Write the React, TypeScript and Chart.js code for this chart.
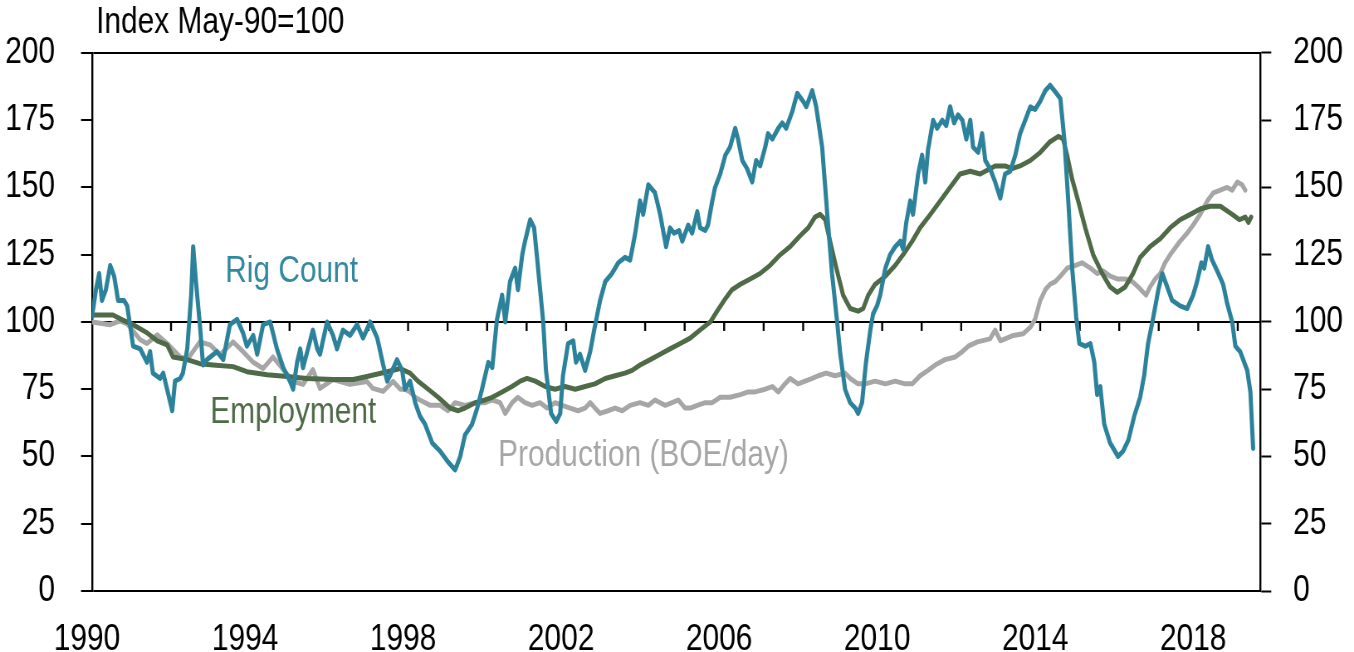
import { useEffect, useRef } from 'react';
import { Chart, registerables } from 'chart.js';

Chart.register(...registerables);

const FONT = "'Liberation Sans', Arial, sans-serif";
const BASE_YEAR = 1990;
const END_YEAR = 2019.57;

// [years since Jan 1990, index value]
const RIG_COUNT: [number, number][] = [
  [0.00,102],[0.10,112],[0.18,118],[0.25,108],[0.35,112],[0.46,121],[0.56,117],[0.66,108],[0.81,108],[0.89,106],[0.96,99],[1.04,91],[1.22,90],[1.39,85],[1.47,89],[1.54,81],[1.72,79],[1.80,81],[1.90,75],[2.03,67],[2.10,78],[2.23,79],[2.30,81],[2.41,90],[2.51,110],[2.56,128],[2.63,115],[2.73,99],[2.81,84],[2.91,86],[3.16,89],[3.32,86],[3.49,99],[3.67,101],[3.82,96],[3.92,91],[4.08,95],[4.18,88],[4.33,99],[4.51,100],[4.68,90],[4.84,83],[5.01,78],[5.09,75],[5.19,85],[5.27,90],[5.34,83],[5.52,93],[5.59,97],[5.70,90],[5.77,88],[5.95,100],[6.10,95],[6.20,90],[6.35,97],[6.53,95],[6.71,99],[6.86,94],[7.04,100],[7.22,94],[7.37,84],[7.47,78],[7.54,80],[7.72,86],[7.85,82],[7.92,75],[8.05,78],[8.18,70],[8.30,65],[8.43,62],[8.61,55],[8.81,52],[9.01,48],[9.19,45],[9.32,50],[9.44,58],[9.62,62],[9.75,68],[9.87,75],[9.95,80],[10.03,85],[10.13,83],[10.25,101],[10.38,110],[10.46,100],[10.58,115],[10.71,120],[10.78,112],[10.89,125],[10.96,130],[11.09,138],[11.19,135],[11.29,120],[11.42,100],[11.49,82],[11.62,66],[11.75,63],[11.85,66],[11.92,80],[12.05,92],[12.18,93],[12.25,85],[12.35,88],[12.48,82],[12.61,89],[12.71,97],[12.86,108],[12.99,115],[13.16,118],[13.32,122],[13.49,124],[13.62,123],[13.75,133],[13.87,145],[13.95,140],[14.08,151],[14.25,148],[14.38,140],[14.53,128],[14.63,135],[14.73,133],[14.86,134],[14.94,130],[15.09,136],[15.19,133],[15.32,141],[15.39,135],[15.52,134],[15.59,136],[15.70,145],[15.77,150],[15.90,155],[16.03,162],[16.15,165],[16.28,172],[16.35,168],[16.46,160],[16.58,157],[16.71,152],[16.81,160],[16.91,158],[17.04,165],[17.11,170],[17.22,168],[17.37,172],[17.47,174],[17.57,172],[17.72,178],[17.85,185],[18.00,182],[18.08,180],[18.23,186],[18.33,180],[18.48,165],[18.61,140],[18.73,118],[18.86,100],[18.94,88],[19.06,75],[19.19,70],[19.32,68],[19.39,66],[19.49,70],[19.59,85],[19.70,97],[19.77,103],[19.87,106],[19.95,110],[20.08,120],[20.20,125],[20.33,128],[20.46,130],[20.53,127],[20.61,137],[20.71,145],[20.78,140],[20.91,155],[21.01,162],[21.09,152],[21.16,164],[21.29,175],[21.39,172],[21.52,175],[21.62,173],[21.72,180],[21.82,174],[21.92,177],[22.03,175],[22.13,168],[22.23,175],[22.30,165],[22.43,163],[22.53,170],[22.61,160],[22.73,157],[22.86,152],[22.99,146],[23.11,155],[23.24,156],[23.37,162],[23.49,170],[23.62,175],[23.75,180],[23.87,179],[24.00,182],[24.13,186],[24.25,188],[24.41,185],[24.51,183],[24.61,168],[24.71,145],[24.81,120],[24.91,102],[24.99,92],[25.14,91],[25.27,92],[25.37,85],[25.44,73],[25.52,76],[25.62,62],[25.77,55],[25.97,50],[26.10,52],[26.23,56],[26.38,65],[26.53,72],[26.63,80],[26.73,92],[26.84,100],[26.99,112],[27.09,118],[27.19,114],[27.34,108],[27.54,106],[27.72,105],[27.87,110],[27.97,115],[28.08,122],[28.15,120],[28.25,128],[28.35,123],[28.51,118],[28.63,114],[28.73,107],[28.86,100],[28.94,91],[29.06,89],[29.24,82],[29.32,74],[29.39,53],
];

const EMPLOYMENT: [number, number][] = [
  [0.00,102.6],[0.53,102.6],[0.78,100.7],[1.04,99],[1.39,96],[1.65,93],[1.90,91.5],[2.05,87],[2.41,86],[2.73,84.5],[3.06,84],[3.57,83.4],[3.92,81.5],[4.43,80.4],[4.94,79.7],[5.44,79],[6.10,78.6],[6.61,78.6],[6.96,79.7],[7.47,81.5],[7.80,82.7],[8.05,81],[8.25,78],[8.51,75],[8.76,72],[9.06,68],[9.27,67],[9.44,68],[9.70,70],[9.95,71],[10.13,72],[10.38,74],[10.63,76],[10.84,78],[11.01,79],[11.22,78],[11.47,76],[11.72,75],[11.97,76],[12.23,75],[12.48,76],[12.73,77],[12.99,79],[13.24,80],[13.49,81],[13.67,82],[13.87,84],[14.13,86],[14.38,88],[14.63,90],[14.89,92],[15.14,94],[15.39,97],[15.65,100],[15.82,104],[16.00,108],[16.20,112],[16.41,114],[16.66,116],[16.91,118],[17.16,121],[17.42,125],[17.67,128],[17.92,132],[18.13,135],[18.30,139],[18.43,140],[18.56,138],[18.68,130],[18.84,120],[19.01,110],[19.19,105],[19.39,104],[19.52,105],[19.65,110],[19.82,114],[20.08,117],[20.33,121],[20.53,125],[20.76,130],[20.96,135],[21.22,140],[21.47,145],[21.72,150],[21.97,155],[22.23,156],[22.48,155],[22.61,156],[22.86,158],[23.11,158],[23.29,157],[23.49,158],[23.75,160],[24.00,163],[24.25,167],[24.46,169],[24.58,168],[24.68,162],[24.81,153],[24.96,145],[25.14,135],[25.34,125],[25.57,118],[25.77,113],[25.95,111],[26.15,113],[26.35,118],[26.53,124],[26.78,128],[27.04,131],[27.29,135],[27.54,138],[27.80,140],[28.05,142],[28.30,143],[28.56,143],[28.86,140],[29.04,138],[29.19,139],[29.27,137],[29.34,139],
];

const PRODUCTION: [number, number][] = [
  [0.00,100],[0.46,99],[0.71,100.4],[0.89,99.3],[1.22,93.4],[1.39,92],[1.65,95.2],[1.90,92],[2.23,87],[2.41,86],[2.73,92.6],[2.99,91.5],[3.24,87.8],[3.57,92.6],[3.82,89],[4.08,85],[4.33,82.7],[4.58,87],[4.84,82.3],[5.09,77.9],[5.34,76.8],[5.59,82.3],[5.77,75.3],[6.10,78.6],[6.53,76.8],[6.96,77.9],[7.11,75.3],[7.37,74.2],[7.62,77.9],[7.80,75],[7.92,75],[8.05,74],[8.18,72],[8.30,71],[8.56,69],[8.81,69],[9.01,67],[9.19,70],[9.44,69],[9.70,70],[9.95,70],[10.13,71],[10.33,70],[10.46,66],[10.63,70],[10.78,72],[10.96,70],[11.14,69],[11.34,70],[11.52,68],[11.72,70],[11.90,69],[12.10,68],[12.30,67],[12.48,68],[12.61,70],[12.73,68],[12.86,66],[13.06,67],[13.24,68],[13.42,67],[13.62,69],[13.87,70],[14.08,69],[14.25,71],[14.38,70],[14.51,69],[14.68,70],[14.84,71],[15.01,68],[15.14,68],[15.32,69],[15.52,70],[15.70,70],[15.90,72],[16.15,72],[16.41,73],[16.61,74],[16.78,74],[17.04,75],[17.22,76],[17.37,74],[17.54,77],[17.67,79],[17.87,77],[18.05,78],[18.23,79],[18.38,80],[18.58,81],[18.81,80],[19.06,81],[19.19,79],[19.39,77],[19.57,77],[19.82,78],[20.08,77],[20.33,78],[20.58,77],[20.76,77],[20.96,80],[21.16,82],[21.34,84],[21.59,86],[21.85,87],[22.03,89],[22.18,91],[22.41,92.6],[22.73,93.7],[22.86,97],[22.99,93],[23.32,95],[23.57,95.6],[23.75,98],[23.87,101],[24.00,108],[24.13,112],[24.25,114],[24.38,115],[24.51,117],[24.68,120],[24.89,121],[25.06,122],[25.27,120],[25.44,118],[25.59,119],[25.77,117],[25.95,116],[26.15,116],[26.33,115],[26.48,113],[26.61,111],[26.68,110],[26.78,113],[26.91,116],[27.04,118],[27.16,122],[27.29,125],[27.54,130],[27.72,133],[27.87,136],[28.05,140],[28.23,145],[28.38,148],[28.56,149],[28.73,150],[28.86,149],[28.99,152],[29.11,151],[29.19,149],
];

const X_LABEL_YEARS = [1990, 1994, 1998, 2002, 2006, 2010, 2014, 2018];
const Y_TICKS_STEP = 25;
const KEY_LINES = [0, 100, 200];
const TITLE = 'Index May-90=100';

const TEAL = '#2C829A';
const GREEN = '#4E6A47';
const GRAY = '#A6A6A6';

const ANNOTATIONS = [
  { text: 'Rig Count', color: '#3188A0', year: 1993.37, value: 118.5 },
  { text: 'Employment', color: GREEN, year: 1992.99, value: 66 },
  { text: 'Production (BOE/day)', color: GRAY, year: 2000.28, value: 50.2 },
];

// page size and horizontal condensing of the drawing (narrow type like the original)
const CSS_W = 1354;
const CSS_H = 652;
const SX = 0.83;
const W = Math.round(CSS_W / SX);
const ix = (cssPx: number) => cssPx / SX;

const toPoints = (arr: [number, number][]) => arr.map(([t, v]) => ({ x: BASE_YEAR + t, y: v }));

export default function App() {
  const ref = useRef<HTMLCanvasElement>(null);
  useEffect(() => {
    const canvas = ref.current;
    if (!canvas) return;

    const yearTicks = {
      id: 'yearTicks',
      beforeDatasetsDraw(chart: any) {
        const { ctx, scales } = chart;
        const xs = scales.x;
        const y0 = scales.y.getPixelForValue(100);
        ctx.save();
        ctx.strokeStyle = '#000';
        ctx.lineWidth = 2.4;
        for (let yr = BASE_YEAR + 1; yr <= Math.floor(END_YEAR); yr++) {
          const px = xs.getPixelForValue(yr);
          ctx.beginPath();
          ctx.moveTo(px, y0);
          ctx.lineTo(px, y0 + 9);
          ctx.stroke();
        }
        ctx.restore();
      },
    };

    const texts = {
      id: 'texts',
      afterDraw(chart: any) {
        const { ctx, scales } = chart;
        ctx.save();
        ctx.font = `36px ${FONT}`;
        ctx.textBaseline = 'alphabetic';
        ctx.textAlign = 'left';
        ctx.fillStyle = '#000';
        ctx.fillText(TITLE, ix(96), 33);
        ctx.textBaseline = 'middle';
        for (const a of ANNOTATIONS) {
          ctx.fillStyle = a.color;
          ctx.fillText(a.text, scales.x.getPixelForValue(a.year), scales.y.getPixelForValue(a.value));
        }
        ctx.restore();
      },
    };

    const lineDs = (label: string, data: [number, number][], color: string, width: number) => ({
      label,
      data: toPoints(data),
      borderColor: color,
      backgroundColor: color,
      borderWidth: width,
      pointRadius: 0,
      tension: 0,
      borderJoinStyle: 'round' as const,
      borderCapStyle: 'round' as const,
      fill: false,
    });

    const tickFont = { family: FONT, size: 36 };
    const yTickLen = ix(11);

    const chart = new Chart(canvas, {
      type: 'line',
      data: {
        datasets: [
          lineDs('Rig Count', RIG_COUNT, TEAL, 5),
          lineDs('Employment', EMPLOYMENT, GREEN, 5),
          lineDs('Production (BOE/day)', PRODUCTION, GRAY, 5),
        ],
      },
      options: {
        animation: false,
        responsive: false,
        devicePixelRatio: 1,
        layout: { padding: { top: 49, left: 0, right: 0, bottom: 0 } },
        plugins: { legend: { display: false }, tooltip: { enabled: false } },
        scales: {
          x: {
            type: 'linear',
            min: BASE_YEAR,
            max: END_YEAR,
            grid: { display: false },
            border: { display: false },
            afterBuildTicks: (s: any) => {
              s.ticks = X_LABEL_YEARS.map((v) => ({ value: v }));
            },
            ticks: {
              autoSkip: false,
              maxRotation: 0,
              padding: 19,
              labelOffset: ix(-5),
              font: tickFont,
              color: '#000',
              callback: (v: any) => String(v),
            },
            afterFit: (s: any) => { s.height = 61; },
          },
          y: {
            position: 'left',
            min: 0,
            max: 200,
            ticks: { stepSize: Y_TICKS_STEP, font: tickFont, color: '#000', padding: ix(26) },
            grid: {
              color: (c: any) => (c.tick && KEY_LINES.includes(c.tick.value) ? '#000' : 'rgba(0,0,0,0)'),
              lineWidth: 2,
              tickColor: '#000',
              tickWidth: 2,
              tickLength: yTickLen,
            },
            border: { display: true, color: '#000', width: 2.4 },
            afterFit: (s: any) => { s.width = ix(92); },
          },
          y2: {
            position: 'right',
            min: 0,
            max: 200,
            ticks: { stepSize: Y_TICKS_STEP, font: tickFont, color: '#000', padding: ix(22) },
            grid: {
              drawOnChartArea: false,
              tickColor: '#000',
              tickWidth: 2,
              tickLength: yTickLen,
            },
            border: { display: true, color: '#000', width: 2.4 },
            afterFit: (s: any) => { s.width = W - ix(1260); },
          },
        },
      },
      plugins: [yearTicks, texts],
    } as any);
    return () => chart.destroy();
  }, []);

  return (
    <div style={{ position: 'fixed', left: 0, top: 0, width: CSS_W, height: CSS_H, background: '#fff' }}>
      <canvas ref={ref} width={W} height={CSS_H} style={{ display: 'block', width: CSS_W, height: CSS_H }} />
    </div>
  );
}
